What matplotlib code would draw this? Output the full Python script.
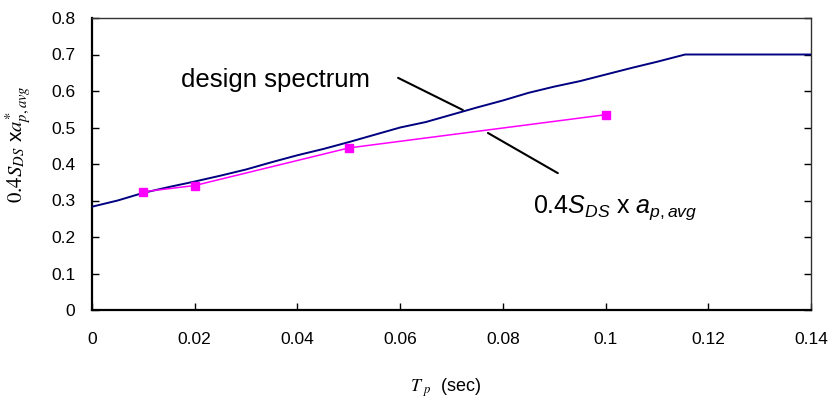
import matplotlib
matplotlib.use("Agg")
import matplotlib.pyplot as plt

# ---- data ----
spec_x = [0.0, 0.005, 0.01, 0.015, 0.02, 0.025, 0.03, 0.035, 0.04, 0.045, 0.05,
          0.055, 0.06, 0.065, 0.07, 0.075, 0.08, 0.085, 0.09, 0.095, 0.1, 0.105,
          0.11, 0.1155, 0.14]
spec_y = [0.283, 0.300, 0.321, 0.337, 0.352, 0.368, 0.385, 0.405, 0.424, 0.441, 0.46,
          0.48, 0.50, 0.515, 0.535, 0.555, 0.574, 0.595, 0.612, 0.627, 0.645, 0.663,
          0.680, 0.700, 0.700]
avg_x = [0.01, 0.02, 0.05, 0.1]
avg_y = [0.324, 0.341, 0.444, 0.535]
xticks = [0, 0.02, 0.04, 0.06, 0.08, 0.1, 0.12, 0.14]
xticklabels = ["0", "0.02", "0.04", "0.06", "0.08", "0.1", "0.12", "0.14"]
yticks = [0, 0.1, 0.2, 0.3, 0.4, 0.5, 0.6, 0.7, 0.8]
yticklabels = ["0", "0.1", "0.2", "0.3", "0.4", "0.5", "0.6", "0.7", "0.8"]

plt.rcParams['font.family'] = ['Liberation Sans', 'DejaVu Sans']
plt.rcParams['mathtext.fontset'] = 'custom'
plt.rcParams['mathtext.rm'] = 'Liberation Sans'
plt.rcParams['mathtext.it'] = 'Liberation Sans:italic'
plt.rcParams['mathtext.bf'] = 'Liberation Sans:bold'

fig = plt.figure(figsize=(8.33, 4.03), dpi=100)
ax = fig.add_axes([92/833, 93/403, 719/833, 292/403])

ax.plot(spec_x, spec_y, color='#000080', lw=1.4, zorder=3)
ax.plot(avg_x, avg_y, color='#ff00ff', lw=1.1, marker='s', ms=6,
        markerfacecolor='#ff00ff', markeredgecolor='#ff00ff', zorder=4)

ax.set_xlim(0, 0.14)
ax.set_ylim(0, 0.8)
ax.set_xticks(xticks)
ax.set_xticklabels(xticklabels)
ax.set_yticks(yticks)
ax.set_yticklabels(yticklabels)
ax.tick_params(axis='both', direction='in', length=5, width=1, labelsize=12.5,
               colors='black')
ax.tick_params(axis='x', pad=16)
ax.tick_params(axis='y', pad=12, right=True)

for s in ['left', 'bottom']:
    ax.spines[s].set_linewidth(1.6)
    ax.spines[s].set_color('black')
for s in ['top', 'right']:
    ax.spines[s].set_linewidth(1.0)
    ax.spines[s].set_color('#333333')

# annotations
ax.text(0.0173, 0.611, 'design spectrum', fontsize=18.5, va='baseline', ha='left')
ax.annotate('', xy=(0.0722, 0.548), xytext=(0.0596, 0.636),
            arrowprops=dict(arrowstyle='-', color='black', lw=1.5, shrinkA=0, shrinkB=0))
ax.annotate('', xy=(0.0771, 0.485), xytext=(0.0907, 0.375),
            arrowprops=dict(arrowstyle='-', color='black', lw=1.5, shrinkA=0, shrinkB=0))
ax.text(0.0859, 0.266, r'0.4$S_{DS}$ x $a_{p,avg}$', fontsize=18,
        va='baseline', ha='left', math_fontfamily='custom')

ax.set_ylabel(r'$\mathit{0.4S}_{DS}$ x$a^{*}_{p,avg}$', fontsize=15,
              math_fontfamily='stix')
ax.yaxis.set_label_coords(-0.0807, 0.568)
ax.set_xlabel(r'$T_{\ p}$  (sec)', fontsize=13, math_fontfamily='stix')
ax.xaxis.set_label_coords((446 - 92) / 719, -0.226)

fig.savefig('out.png', dpi=100)
